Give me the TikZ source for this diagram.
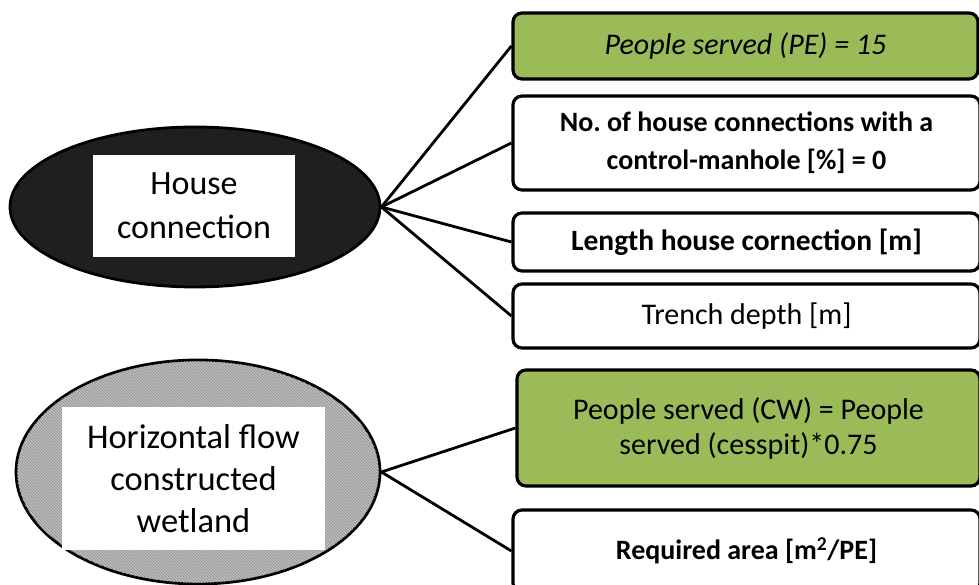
\documentclass[tikz,border=0pt]{standalone}
\usepackage{fontspec}
\setmainfont{Carlito}
\usetikzlibrary{shapes.geometric,patterns}
\definecolor{boxgreen}{HTML}{9BBB59}
\frenchspacing
\tikzset{
  infobox/.style={draw=black, line width=3.2pt, rounded corners=9pt, align=center, inner sep=0pt, fill=white},
  greenbox/.style={infobox, fill=boxgreen},
  link/.style={draw=black, line width=2.8pt},
  oval/.style={draw=black, line width=2.8pt, ellipse, inner sep=0pt},
  label/.style={fill=white, align=center, inner sep=0pt}
}
\begin{document}
\begin{tikzpicture}[x=1pt,y=1pt]
\useasboundingbox (0,0) rectangle (979,585);
% house connection
\node[oval, fill=black!88, minimum width=370pt, minimum height=160pt] (hc) at (195,378) {};
\node[label, minimum width=202pt, minimum height=102pt, font=\fontsize{34}{44}\selectfont] (hct) at (194,379) {House\\connection};
% wetland
\node[oval, fill=black!25, minimum width=364pt, minimum height=224pt] (cw) at (198,113) {};
\path[pattern=north west lines, pattern color=black!45] (cw.center) ellipse [x radius=181pt, y radius=111pt];
\node[label, minimum width=263pt, minimum height=143pt, font=\fontsize{34.5}{42}\selectfont] (cwt) at (193.5,106.5) {Horizontal flow\\constructed\\wetland};
% boxes
\node[greenbox, minimum width=465pt, minimum height=66pt, font=\fontsize{30}{36}\itshape] (b1) at (745.5,539) {People served (PE) = 15};
\node[infobox, minimum width=467pt, minimum height=94pt, font=\fontsize{28}{38}\bfseries] (b2) at (746.5,442) {No.\ of house connections with a\\control-manhole [\%] = 0};
\node[infobox, minimum width=467pt, minimum height=58pt, font=\fontsize{29.5}{35}\bfseries] (b3) at (746.5,343) {Length house cornection [m]};
\node[infobox, minimum width=467pt, minimum height=64pt, font=\fontsize{30}{36}\selectfont] (b4) at (746.5,269) {Trench depth [m]};
\node[greenbox, minimum width=463pt, minimum height=116pt, font=\fontsize{30}{35}\selectfont] (b5) at (748.5,157) {People served (CW) = People\\served (cesspit)*0.75};
\node[infobox, minimum width=467pt, minimum height=82pt, font=\fontsize{28}{33}\bfseries] (b6) at (746.5,34) {Required area [m\textsuperscript{2}/PE]};
% connectors
\coordinate (hcE) at (hc.east);
\coordinate (cwE) at (cw.east);
\draw[link] (hcE) -- (b1.west);
\draw[link] (hcE) -- (b2.west);
\draw[link] (hcE) -- (b3.west);
\draw[link] (hcE) -- (b4.west);
\draw[link] (cwE) -- (b5.west);
\draw[link] (cwE) -- (b6.west);
\end{tikzpicture}
\end{document}
